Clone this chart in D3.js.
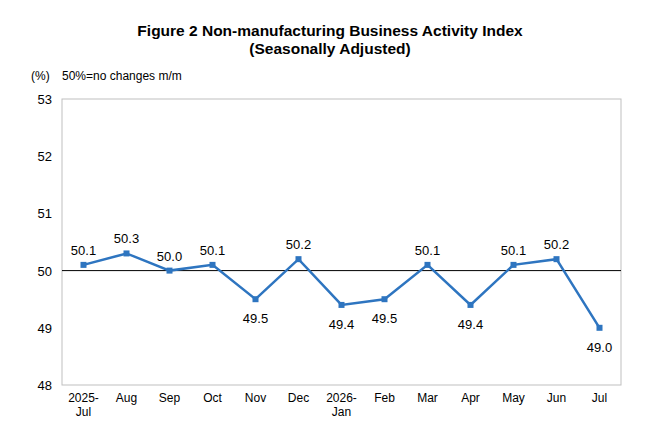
<!DOCTYPE html>
<html><head><meta charset="utf-8">
<script src="https://cdn.jsdelivr.net/npm/d3@7"></script>
<style>body{margin:0;background:#fff;font-family:Arial,"Liberation Sans",sans-serif}</style>
</head><body><svg width="660" height="440"></svg>
<script>
const months = ['2025-\nJul','Aug','Sep','Oct','Nov','Dec','2026-\nJan','Feb','Mar','Apr','May','Jun','Jul']
const values = [50.1,50.3,50.0,50.1,49.5,50.2,49.4,49.5,50.1,49.4,50.1,50.2,49.0]
const labelBelow = [false,false,false,false,true,false,true,true,false,true,false,false,true]
const yTicks = [48,49,50,51,52,53]

const svg = d3.select('svg')
const x = d3.scaleBand().domain(months).range([62,621])
const y = d3.scaleLinear().domain([48,53]).range([385,99])

svg.append('text').attr('x',330).attr('y',36).attr('text-anchor','middle')
  .style('font-weight','bold').style('font-size','15.5px').text('Figure 2 Non-manufacturing  Business Activity Index')
svg.append('text').attr('x',330).attr('y',54).attr('text-anchor','middle')
  .style('font-weight','bold').style('font-size','15.5px').text('(Seasonally Adjusted)')
svg.append('text').attr('x',31).attr('y',80).style('font-size','12px').text('(%)')
svg.append('text').attr('x',62).attr('y',80).style('font-size','12px').text('50%=no changes m/m')

svg.append('rect').attr('x',62).attr('y',99).attr('width',559).attr('height',286)
  .attr('fill','none').attr('stroke','#bfbfbf')
svg.append('line').attr('x1',62).attr('x2',621).attr('y1',y(50)).attr('y2',y(50)).attr('stroke','#000')

svg.selectAll('.yt').data(yTicks).enter().append('text')
  .attr('x',52).attr('y',d=>y(d)+5).attr('text-anchor','end').style('font-size','13px').text(d=>d)

const xl = svg.selectAll('.xt').data(months).enter().append('text')
  .attr('x',d=>x(d)+x.bandwidth()/2).attr('y',402).attr('text-anchor','middle').style('font-size','12px')
xl.selectAll('tspan').data(d=>d.split('\n')).enter().append('tspan')
  .attr('x',function(){return this.parentNode.getAttribute('x')}).attr('dy',(d,i)=>i?14:0).text(d=>d)

const cx = (d,i)=>x(months[i])+x.bandwidth()/2
svg.append('path').datum(values)
  .attr('d',d3.line().x(cx).y(d=>y(d)))
  .attr('fill','none').attr('stroke','#2e75c0').attr('stroke-width',2.5)
svg.selectAll('.m').data(values).enter().append('rect')
  .attr('x',(d,i)=>cx(d,i)-3).attr('y',d=>y(d)-3).attr('width',6).attr('height',6).attr('fill','#2e75c0')
svg.selectAll('.lb').data(values).enter().append('text')
  .attr('x',cx).attr('y',(d,i)=>labelBelow[i]?y(d)+24:y(d)-10)
  .attr('text-anchor','middle').style('font-size','13px').text(d=>d.toFixed(1))
</script></body></html>
